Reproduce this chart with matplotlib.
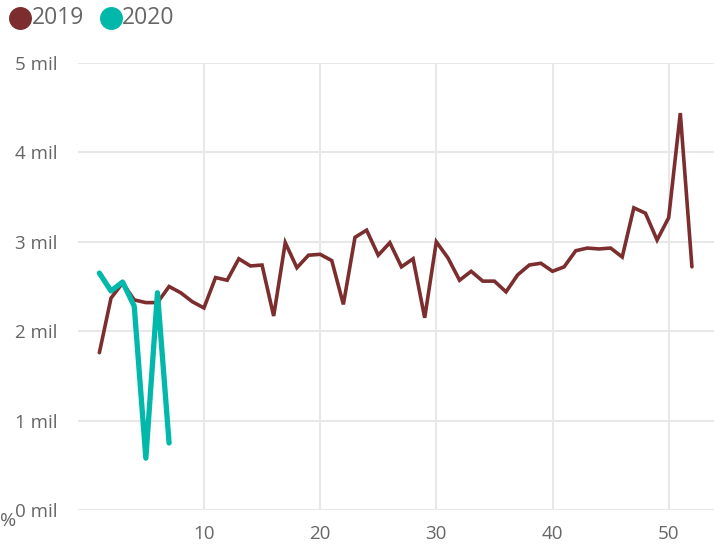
import matplotlib
matplotlib.use("Agg")
import matplotlib.pyplot as plt
from matplotlib.lines import Line2D

plt.rcParams['font.family'] = ['Open Sans', 'DejaVu Sans']

# weekly values, millions
weeks_2019 = list(range(1, 53))
values_2019 = [1.76, 2.37, 2.54, 2.35, 2.32, 2.32, 2.50, 2.43, 2.33, 2.26,
               2.60, 2.57, 2.81, 2.73, 2.74, 2.17, 2.99, 2.71, 2.85, 2.86,
               2.79, 2.30, 3.05, 3.13, 2.85, 2.99, 2.72, 2.81, 2.15, 3.00,
               2.82, 2.57, 2.67, 2.56, 2.56, 2.44, 2.63, 2.74, 2.76, 2.67,
               2.72, 2.90, 2.93, 2.92, 2.93, 2.83, 3.38, 3.32, 3.02, 3.27,
               4.44, 2.72]
weeks_2020 = list(range(1, 8))
values_2020 = [2.65, 2.45, 2.55, 2.28, 0.58, 2.43, 0.75]

y_ticks = [0, 1, 2, 3, 4, 5]
y_labels = ["0 mil", "1 mil", "2 mil", "3 mil", "4 mil", "5 mil"]
x_ticks = [10, 20, 30, 40, 50]

c2019 = "#7c2e2e"
c2020 = "#01b8aa"
grey = "#666666"

fig = plt.figure(figsize=(7.14, 5.44), dpi=100)
ax = fig.add_axes([78 / 714, 1 - 510 / 544, 636 / 714, 447 / 544])

ax.plot(weeks_2019, values_2019, color=c2019, lw=2.6, solid_joinstyle="miter",
        solid_capstyle="round", clip_on=False, zorder=3)
ax.plot(weeks_2020, values_2020, color=c2020, lw=3.8, solid_joinstyle="round",
        solid_capstyle="round", clip_on=False, zorder=4)

ax.set_xlim(-0.84, 53.9)
ax.set_ylim(0, 5)
ax.set_yticks(y_ticks)
ax.set_yticklabels(y_labels)
ax.set_xticks(x_ticks)
ax.grid(True, color="#e8e8e8", lw=1.5)
ax.set_axisbelow(True)
for s in ax.spines.values():
    s.set_visible(False)
ax.tick_params(axis="both", length=0, labelsize=13.5, labelcolor=grey)
ax.tick_params(axis="y", pad=15)
ax.tick_params(axis="x", pad=11)

# legend
fig.add_artist(Line2D([20 / 714], [1 - 18 / 544], marker="o", markersize=15.5,
                      color=c2019, transform=fig.transFigure))
fig.text(32 / 714, 1 - 18 / 544, "2019", fontsize=16.5, color=grey, va="center", ha="left")
fig.add_artist(Line2D([111 / 714], [1 - 18 / 544], marker="o", markersize=15.5,
                      color=c2020, transform=fig.transFigure))
fig.text(122 / 714, 1 - 18 / 544, "2020", fontsize=16.5, color=grey, va="center", ha="left")

fig.text(0, 1 - 521 / 544, "%", fontsize=14, color=grey, va="center", ha="left")

fig.savefig("out.png", dpi=100)
